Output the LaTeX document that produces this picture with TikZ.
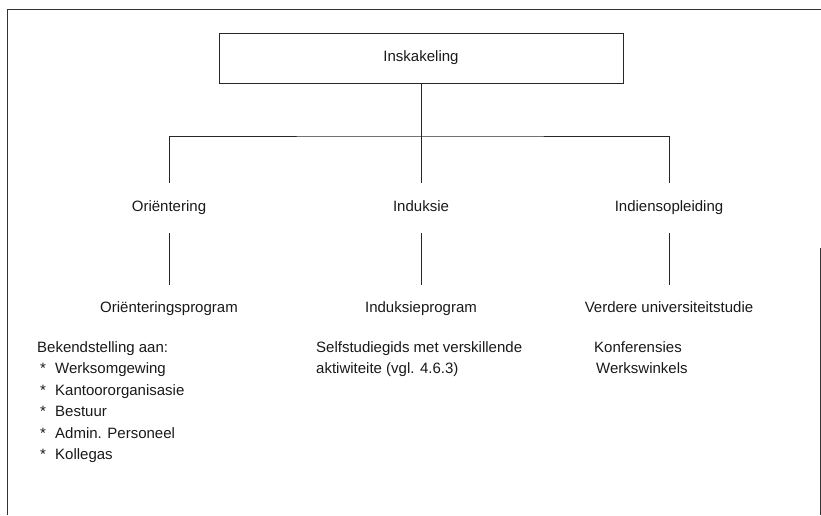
\documentclass[tikz,border=0pt]{standalone}
\usepackage{fontspec}
\setmainfont{Liberation Sans}
\begin{document}
\begin{tikzpicture}[x=1pt,y=-1pt,
  every node/.style={font=\fontsize{15}{21.5}\selectfont, inner sep=0pt, text=black!90},
  lbl/.style={text height=11pt, text depth=3.5pt, minimum height=50pt},
  prog/.style={text height=11pt, text depth=3.5pt, minimum height=48pt},
  link/.style={draw=black!85, line width=0.9pt},
  frame/.style={draw=black!80, line width=1pt},
  listing/.style={anchor=north west, align=left}]
\useasboundingbox (0,0) rectangle (821,515);
% outer frame, open at the bottom
\draw[frame] (7,515) -- (7,9) -- (821,9);
\draw[frame] (820,248) -- (820,515);
% top box
\node[draw=black!85, line width=0.9pt, minimum width=404pt, minimum height=50pt,
      text height=11pt, text depth=3.5pt] (root) at (421,58) {Inskakeling};
% second level
\node[lbl] (ori) at (169,208) {Oriëntering};
\node[lbl] (ind) at (421,208) {Induksie};
\node[lbl] (ins) at (669,208) {Indiensopleiding};
% third level
\node[prog] (oprog) at (169,309) {Oriënteringsprogram};
\node[prog] (iprog) at (421,309) {Induksieprogram};
\node[prog] (vprog) at (669,309) {Verdere universiteitstudie};
% connectors
\coordinate (bar) at (421,136);
\draw[link] (root.south) -- (ind.north);
\draw[link] (ori.north) |- (bar) -| (ins.north);
\draw[link] (ori.south) -- (oprog.north);
\draw[link] (ind.south) -- (iprog.north);
\draw[link] (ins.south) -- (vprog.north);
% detail lists
\node[listing] (olist) at (37,341) {Bekendstelling aan:\\
  \makebox[18pt][l]{\hspace{3pt}*}Werksomgewing\\
  \makebox[18pt][l]{\hspace{3pt}*}Kantoororganisasie\\
  \makebox[18pt][l]{\hspace{3pt}*}Bestuur\\
  \makebox[18pt][l]{\hspace{3pt}*}Admin. Personeel\\
  \makebox[18pt][l]{\hspace{3pt}*}Kollegas};
\node[listing] (ilist) at (316,341) {Selfstudiegids met verskillende\\aktiwiteite (vgl. 4.6.3)};
\node[listing] (rlist) at (594,341) {Konferensies\\\hspace{2pt}Werkswinkels};
\end{tikzpicture}
\end{document}
